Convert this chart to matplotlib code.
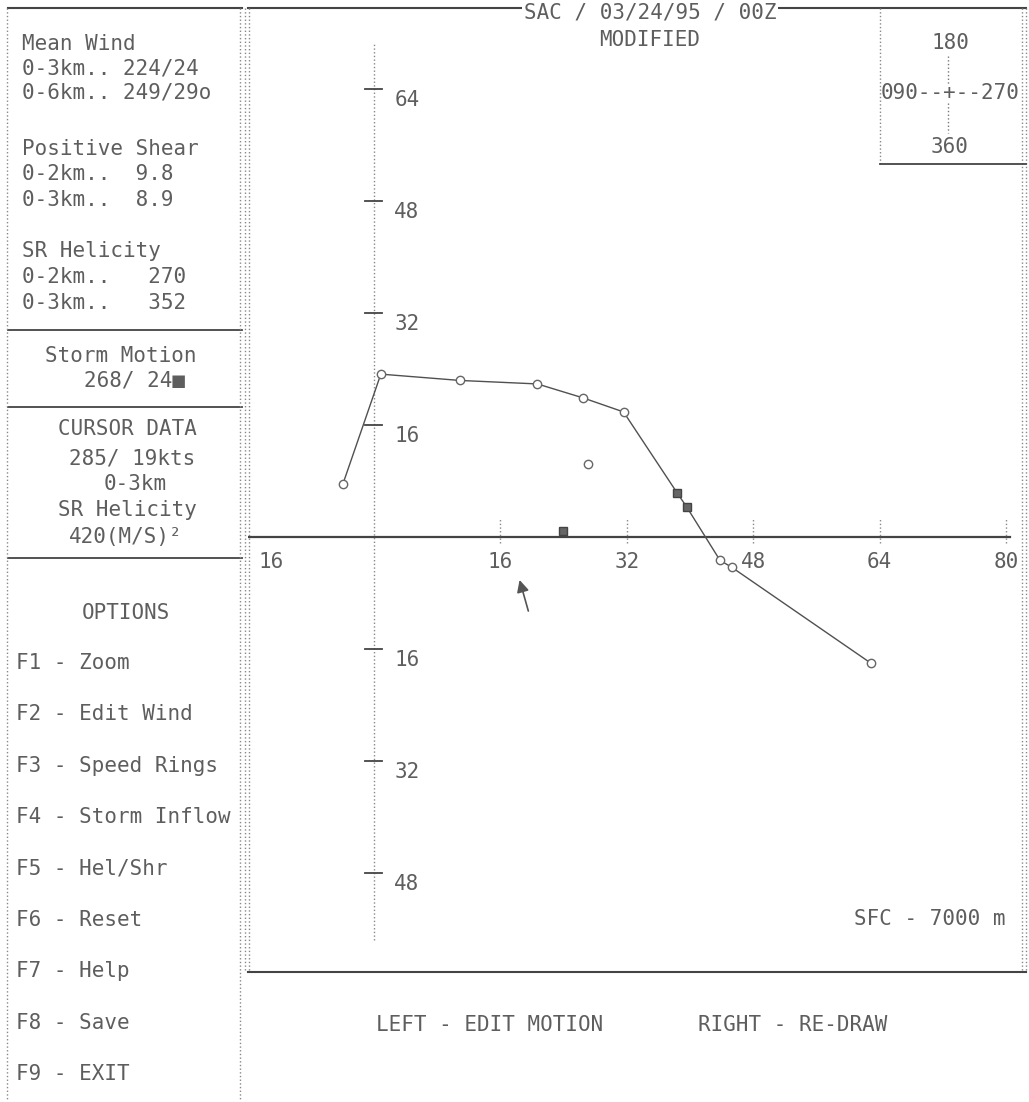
import numpy as np
import matplotlib
matplotlib.use("Agg")
import matplotlib.pyplot as plt

plt.rcParams["font.family"] = ["DejaVu Sans Mono", "DejaVu Sans"]

# hodograph levels (kt, u east / v north as plotted)
hodo_u = [-3.9, 0.9, 10.9, 20.7, 26.5, 31.6, 38.4, 39.6, 43.8, 45.3, 62.9]
hodo_v = [7.6, 23.3, 22.4, 21.9, 19.9, 17.9, 6.3, 4.3, -3.3, -4.3, -18.0]
circle_idx = [0, 1, 2, 3, 4, 5, 8, 9, 10]
square_idx = [6, 7]

mean_wind_dir, mean_wind_spd = 249, 29
storm_dir, storm_spd = 268, 24
cursor_dir, cursor_spd = 285, 19

x_ticks = [16, 32, 48, 64, 80]
y_ticks = [64, 48, 32, 16, -16, -32, -48]

panel_lines = [
    ("Mean Wind", 22, 44), ("0-3km.. 224/24", 22, 68), ("0-6km.. 249/29o", 22, 93),
    ("Positive Shear", 22, 149), ("0-2km..  9.8", 22, 174), ("0-3km..  8.9", 22, 200),
    ("SR Helicity", 22, 251), ("0-2km..   270", 22, 277), ("0-3km..   352", 22, 303),
    ("Storm Motion", 45, 356), ("268/ 24\u25a0", 84, 381),
    ("CURSOR DATA", 58, 429), ("285/ 19kts", 69, 458), ("0-3km", 104, 484),
    ("SR Helicity", 58, 510), ("420(M/S)\u00b2", 69, 537),
    ("OPTIONS", 82, 613),
]
options = ["F1 - Zoom", "F2 - Edit Wind", "F3 - Speed Rings", "F4 - Storm Inflow",
           "F5 - Hel/Shr", "F6 - Reset", "F7 - Help", "F8 - Save", "F9 - EXIT"]


def uv(d, s):
    r = np.deg2rad(d)
    return -s * np.sin(r), -s * np.cos(r)


txt = "#5e5e5e"
dark = "#444444"
fs = 15

fig = plt.figure(figsize=(10.29, 11.02), dpi=100)
bg = fig.add_axes([0, 0, 1, 1])
bg.set_xlim(0, 1029)
bg.set_ylim(1102, 0)
bg.axis("off")

# left panel
bg.plot([8, 242], [8, 8], color=dark, lw=1.5)
for y in [330, 407, 558]:
    bg.plot([8, 242], [y, y], color=dark, lw=1.3)
for x in [7, 240]:
    bg.plot([x, x], [8, 1100], color="#888888", lw=1, ls=":")
for s, x, y in panel_lines:
    bg.text(x, y, s, fontsize=fs, color=txt, va="center", ha="left")
for i, s in enumerate(options):
    bg.text(16, 663 + i * 51.4, s, fontsize=fs, color=txt, va="center", ha="left")

# plot frame
bg.plot([248, 1026], [8, 8], color=dark, lw=1.5)
bg.plot([248, 1026], [972, 972], color=dark, lw=1.5)
for x in [245, 249, 1022, 1026]:
    bg.plot([x, x], [8, 972], color="#888888", lw=1, ls=":")
bg.text(650, 12, "SAC / 03/24/95 / 00Z", fontsize=fs, color=txt, ha="center", va="center",
        bbox=dict(facecolor="white", edgecolor="none", pad=1), zorder=5)
bg.text(650, 40, "MODIFIED", fontsize=fs, color=txt, ha="center", va="center")

# compass box
bg.plot([880, 880], [8, 164], color="#888888", lw=1, ls=":")
bg.plot([880, 1026], [164, 164], color=dark, lw=1.3)
bg.text(950, 43, "180", fontsize=fs, color=txt, ha="center", va="center")
bg.text(950, 93, "090--+--270", fontsize=fs, color=txt, ha="center", va="center")
bg.text(950, 147, "360", fontsize=fs, color=txt, ha="center", va="center")
bg.plot([948, 948], [56, 84], color="#777777", lw=1, ls=":")
bg.plot([948, 948], [103, 133], color="#777777", lw=1, ls=":")

bg.text(1006, 919, "SFC - 7000 m", fontsize=fs, color=txt, ha="right", va="center")
bg.text(376, 1025, "LEFT - EDIT MOTION", fontsize=fs, color=txt, ha="left", va="center")
bg.text(698, 1025, "RIGHT - RE-DRAW", fontsize=fs, color=txt, ha="left", va="center")

# hodograph axes
ax = fig.add_axes([248 / 1029, 130 / 1102, 778 / 1029, 964 / 1102])
ax.set_xlim(-15.9, 82.5)
ax.set_ylim(-62.1, 75.6)
ax.axis("off")

ax.plot([-15.9, 80.5], [0, 0], color=dark, lw=1.6)
ax.plot([0, 0], [-57.6, 70.7], color="#888888", lw=1, ls=":")
for t in x_ticks:
    ax.plot([t, t], [-0.8, 2.8], color="#888888", lw=1, ls=":")
    ax.text(t, -3.5, str(t), fontsize=fs, color=txt, ha="center", va="center")
ax.text(-14.6, -3.5, "16", fontsize=fs, color=txt, ha="left", va="center")
for t in y_ticks:
    ax.plot([-1.1, 1.1], [t, t], color=dark, lw=1.3)
    ax.text(2.6, t - 1.5, str(abs(t)), fontsize=fs, color=txt, ha="left", va="center")

ax.plot(hodo_u, hodo_v, color="#505050", lw=1.0, zorder=3)
ax.plot([hodo_u[i] for i in circle_idx], [hodo_v[i] for i in circle_idx], "o",
        ms=6, mfc="white", mec="#666666", mew=1, zorder=4)
ax.plot([hodo_u[i] for i in square_idx], [hodo_v[i] for i in square_idx], "s",
        ms=6, mfc="#666666", mec="#444444", mew=1, zorder=4)

mu, mv = uv(mean_wind_dir, mean_wind_spd)
ax.plot(mu, mv, "o", ms=6, mfc="white", mec="#666666", mew=1)
su, sv = uv(storm_dir, storm_spd)
ax.plot(su, sv, "s", ms=6, mfc="#666666", mec="#444444", mew=1)
cu, cv = uv(cursor_dir, cursor_spd)
ax.annotate("", xy=(cu, cv - 0.8), xytext=(cu + 1.3, cv - 6.0),
            arrowprops=dict(arrowstyle="-|>", color="#555555", lw=1.2, mutation_scale=18))

fig.savefig("out.png", dpi=100)
